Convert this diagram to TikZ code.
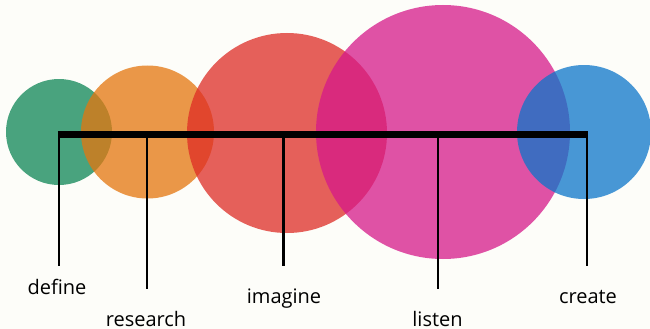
\documentclass[tikz,border=0pt]{standalone}
\usepackage{fontspec}
\setmainfont{Open Sans}
\definecolor{paper}{RGB}{253,253,249}
\definecolor{cgreen}{RGB}{14,134,85}
\definecolor{corange}{RGB}{228,118,14}
\definecolor{cred}{RGB}{222,44,37}
\definecolor{cpink}{RGB}{214,25,138}
\definecolor{cblue}{RGB}{12,118,202}
\tikzset{
  bubble/.style={fill=#1, fill opacity=0.75, draw=none},
  stage/.style={anchor=base, inner sep=0pt, text=black,
    font=\fontsize{20}{24}\selectfont},
  tick/.style={line width=2.3pt, black},
  spine/.style={line width=7pt, black}
}
\begin{document}
\begin{tikzpicture}[x=1pt, y=-1pt]
  \fill[paper] (0,0) rectangle (650,329);
  \useasboundingbox (0,0) rectangle (650,329);

  % overlapping bubbles, left to right
  \fill[bubble=cgreen]  (59,132)  circle[radius=53pt];
  \fill[bubble=corange] (147.5,132) circle[radius=66.5pt];
  \fill[bubble=cred]    (287,133) circle[radius=100pt];
  \fill[bubble=cpink]   (443,132) circle[radius=127pt];
  \fill[bubble=cblue]   (584,132) circle[radius=67pt];

  % points on the timeline
  \coordinate (p1) at (59,134.5);
  \coordinate (p2) at (147,134.5);
  \coordinate (p3) at (283.5,134.5);
  \coordinate (p4) at (438,134.5);
  \coordinate (p5) at (587,134.5);

  % lower ends of the ticks
  \coordinate (e1) at (59,266);
  \coordinate (e2) at (147,289);
  \coordinate (e3) at (283.5,266);
  \coordinate (e4) at (438,289);
  \coordinate (e5) at (587,266);

  \draw[tick] (p1) -- (e1);
  \draw[tick] (p2) -- (e2);
  \draw[tick] (p3) -- (e3);
  \draw[tick] (p4) -- (e4);
  \draw[tick] (p5) -- (e5);
  \draw[spine] ([xshift=-1.15pt]p1) -- ([xshift=1.15pt]p5);

  % stage names
  \node[stage] (define)   at (57,294)   {define};
  \node[stage] (research) at (146,326) {research};
  \node[stage] (imagine)  at (284,303)  {imagine};
  \node[stage] (listen)   at (437.5,326) {listen};
  \node[stage] (create)   at (588,303)  {create};
\end{tikzpicture}
\end{document}
